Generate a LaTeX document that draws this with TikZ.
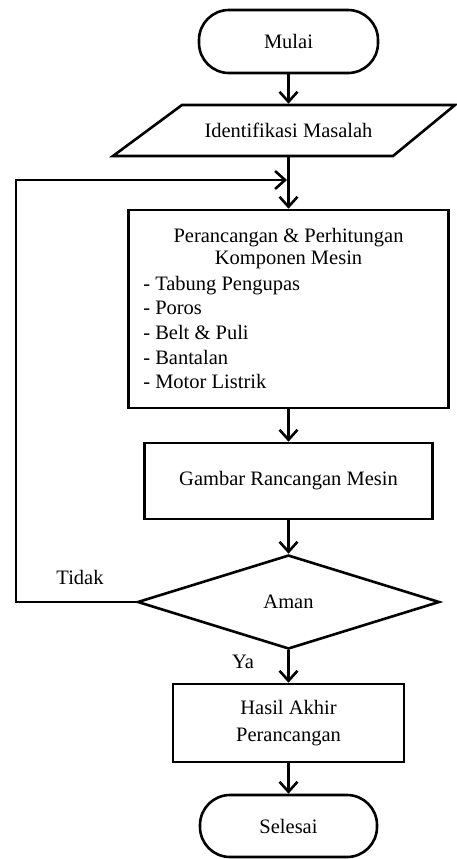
\documentclass[tikz,border=0pt]{standalone}
\usepackage{fontspec}
\setmainfont{Liberation Serif}
\usetikzlibrary{arrows.meta,shapes.geometric}
\begin{document}
\begin{tikzpicture}[x=1pt,y=-1pt,
  line width=2.6pt,
  every node/.style={font=\fontsize{20.5}{23}\selectfont, inner sep=0pt},
  term/.style={draw, rectangle, rounded corners=30pt, minimum width=179pt, minimum height=63pt},
  procbox/.style={draw, rectangle},
  arr/.style={-{Straight Barb[length=10pt,width=18pt]}},
]
\useasboundingbox (0,0) rectangle (457,859);

\node[term] (mulai) at (288.5,41.5) {Mulai};
\node[minimum width=200pt, minimum height=51pt] (ident) at (288.5,130.5) {Identifikasi Masalah};
\draw (182,105) -- (455,105) -- (393,156) -- (113,156) -- cycle;

\node[procbox, minimum width=320pt, minimum height=198pt] (comp) at (288.5,309) {};
\node[align=center, font=\fontsize{20.5}{22}\selectfont] (comptitle) at (288.5,249) {Perancangan \& Perhitungan\\Komponen Mesin};
\node[align=left, anchor=west, font=\fontsize{20.5}{24.7}\selectfont] (complist) at (142,332.5) {- Tabung Pengupas\\- Poros\\- Belt \& Puli\\- Bantalan\\- Motor Listrik};

\node[procbox, minimum width=288pt, minimum height=76pt] (gambar) at (288.5,481) {Gambar Rancangan Mesin};
\node[draw, diamond, aspect=3.2, minimum width=302pt, minimum height=94pt] (aman) at (288.5,602) {Aman};
\node[procbox, minimum width=231pt, minimum height=78pt, align=center, font=\fontsize{20.5}{27}\selectfont] (hasil) at (288.5,723) {Hasil Akhir\\Perancangan};
\node[term, minimum width=177pt, minimum height=62pt] (selesai) at (288.5,826) {Selesai};

\node (tidak) at (80,577) {Tidak};
\node (ya) at (243,662) {Ya};

\coordinate (join) at (287,180);
\coordinate (cl) at (16,602);
\coordinate (ct) at (16,180);

\draw[arr] (mulai) -- (ident);
\draw[arr] (ident) -- (comp);
\draw[arr] (comp) -- (gambar);
\draw[arr] (gambar) -- (aman);
\draw[arr] (aman) -- (hasil);
\draw[arr] (hasil) -- (selesai);
\draw[arr] (aman.west) -- (cl) -- (ct) -- (join);
\end{tikzpicture}
\end{document}
